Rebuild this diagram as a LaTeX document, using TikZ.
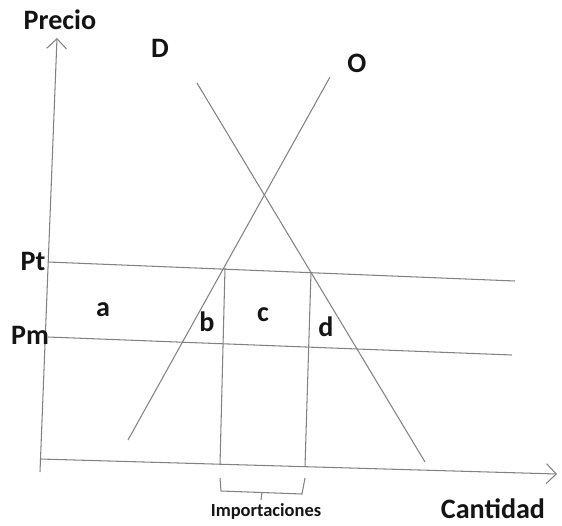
\documentclass[tikz,border=0pt]{standalone}
\usepackage{fontspec}
\setmainfont{Carlito}
\usetikzlibrary{arrows.meta,positioning,calc}
\definecolor{lineagris}{RGB}{130,130,130}
\definecolor{textonegro}{RGB}{20,20,20}
\tikzset{
  eje/.style={-{Straight Barb[length=2mm]}, lineagris, line width=0.6pt},
  curva/.style={lineagris, line width=0.6pt},
  lbl/.style={font=\fontsize{16}{19}\selectfont\bfseries, text=textonegro, inner sep=0pt},
  lblsm/.style={font=\fontsize{10.5}{13}\selectfont\bfseries, text=textonegro, inner sep=0pt},
}
\begin{document}
\begin{tikzpicture}[x=0.02cm, y=0.02cm]
    \useasboundingbox (0,0) rectangle (562,525);
    % ejes
    \coordinate (y0) at (40,53);
    \coordinate (ytop) at (57,487);
    \coordinate (x0) at (40,66);
    \coordinate (xend) at (557,51);
    \draw[eje] (y0) -- (ytop);
    \draw[eje] (x0) -- (xend);
    % precios
    \coordinate (pt0) at (48,263);
    \coordinate (pt1) at (515,244);
    \coordinate (pm0) at (48,188);
    \coordinate (pm1) at (512,170);
    \draw[curva] (pt0) -- (pt1);
    \draw[curva] (pm0) -- (pm1);
    % oferta y demanda
    \coordinate (o0) at (128,85);
    \coordinate (o1) at (330,448);
    \coordinate (d0) at (197,442);
    \coordinate (d1) at (425,63);
    \draw[curva] (o0) -- (o1);
    \draw[curva] (d0) -- (d1);
    % importaciones
    \coordinate (vl0) at (225,257);
    \coordinate (vl1) at (220,60);
    \coordinate (vr0) at (311,253);
    \coordinate (vr1) at (305,58);
    \draw[curva] (vl0) -- (vl1);
    \draw[curva] (vr0) -- (vr1);
    \draw[curva] (220,47) -- (221,34) -- (302,31) -- (305,47);
    \draw[curva] (262,33) -- (261,25);
    % textos
    \node[lbl] (precio) at (60,505) {Precio};
    \node[lbl] (lblD) at (160,477) {D};
    \node[lbl] (lblO) at (357,462) {O};
    \node[lbl] (lblPt) at (33,264) {Pt};
    \node[lbl] (lblPm) at (30,190) {Pm};
    \node[lbl] (lbla) at (103,215) {a};
    \node[lbl] (lblb) at (207,203) {b};
    \node[lbl] (lblc) at (263,210) {c};
    \node[lbl] (lbld) at (326,198) {d};
    \node[lblsm] (impo) at (266,14) {Importaciones};
    \node[lbl] (cantidad) at (493,16) {Cantidad};
\end{tikzpicture}
\end{document}
